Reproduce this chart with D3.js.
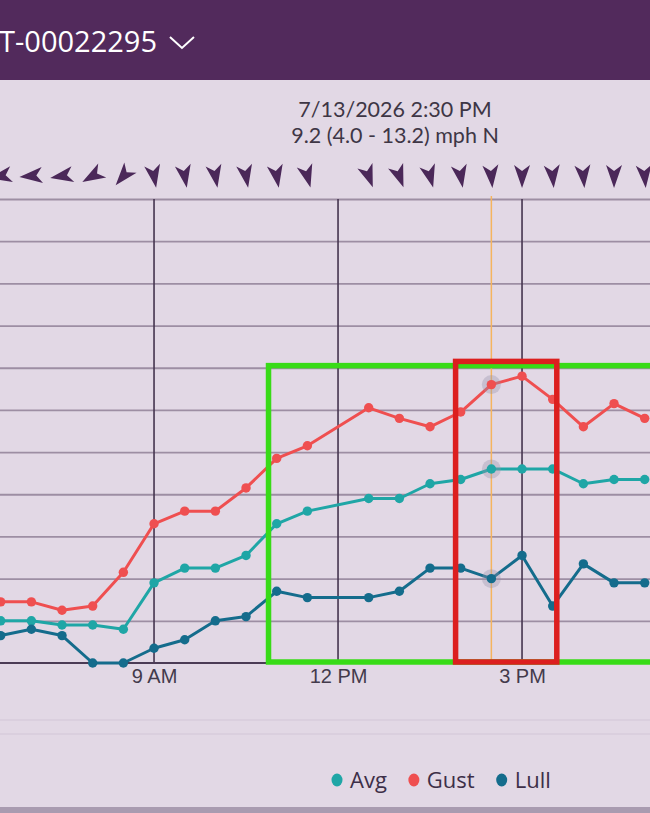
<!DOCTYPE html>
<html>
<head>
<meta charset="utf-8">
<script src="https://cdn.jsdelivr.net/npm/d3@7"></script>
<style>
  html, body { margin: 0; padding: 0; background: #e2d8e5; overflow: hidden; }
  svg { display: block; }
</style>
</head>
<body>
<svg id="windChart" width="650" height="813"></svg>
<script>
let width = 650;
let height = 813;

// data (mph, every 30 min, 12:00 missing)
const stationName = "T-00022295";
const day = "2026-07-13";
const times = ["06:30", "07:00", "07:30", "08:00", "08:30", "09:00", "09:30", "10:00", "10:30",
  "11:00", "11:30", "12:30", "13:00", "13:30", "14:00", "14:30", "15:00", "15:30", "16:00", "16:30", "17:00"];
const avg  = [2.0, 2.0, 1.8, 1.8, 1.6, 3.8, 4.5, 4.5, 5.1, 6.6, 7.2, 7.8, 7.8, 8.5, 8.7, 9.2, 9.2, 9.2, 8.5, 8.7, 8.7];
const gust = [2.9, 2.9, 2.5, 2.7, 4.3, 6.6, 7.2, 7.2, 8.3, 9.7, 10.3, 12.1, 11.6, 11.2, 11.9, 13.2, 13.6, 12.5, 11.2, 12.3, 11.6];
const lull = [1.3, 1.6, 1.3, 0.0, 0.0, 0.7, 1.1, 2.0, 2.2, 3.4, 3.1, 3.1, 3.4, 4.5, 4.5, 4.0, 5.1, 2.7, 4.7, 3.8, 3.8];
const windDir = [80, 85, 80, 60, 40, 350, 350, 350, 350, 350, 345, 340, 340, 345, 350, 355, 0, 355, 355, 0, 355];

const seriesNames = ["Avg", "Gust", "Lull"];
const seriesColors = ["#1fa6a6", "#ef4f50", "#146c8c"];

const selectedTime = "14:30";
const tooltipLines = ["7/13/2026 2:30 PM", "9.2 (4.0 - 13.2) mph N"];
const xTickTimes = ["09:00", "12:00", "15:00"];
const yTicks = [2, 4, 6, 8, 10, 12, 14, 16, 18, 20, 22];

// highlight boxes drawn over the chart
const boxStart = ["10:52", "13:55"];
const boxEnd   = ["17:45", "15:34"];
const boxTop   = [14.1, 14.3];
const boxColor = ["#38db17", "#dc1f1f"];

const parseTime = d3.timeParse("%Y-%m-%d %H:%M");
const toDate = (t) => parseTime(day + " " + t);

let x = d3.scaleTime()
  .domain([toDate("06:30"), toDate("17:00")])
  .range([0.7, 644.7]);

let y = d3.scaleLinear()
  .domain([0, 22])
  .range([663, 199]);

let svg = d3.select("#windChart");

svg.append("rect").attr("width", width).attr("height", height).attr("fill", "#e2d8e5");

// header
svg.append("rect").attr("width", width).attr("height", 80).attr("fill", "#522a5c");
let title = svg.append("text")
  .attr("x", -1).attr("y", 52)
  .attr("fill", "#ffffff")
  .attr("font-family", "'Open Sans', sans-serif")
  .attr("font-size", 29)
  .text(stationName);
let titleEnd = title.node().getComputedTextLength() - 1;
svg.append("path")
  .attr("d", `M${titleEnd + 13},37 L${titleEnd + 25},48 L${titleEnd + 37},37`)
  .attr("fill", "none").attr("stroke", "#ffffff").attr("stroke-width", 2);

// tooltip text
svg.append("g").selectAll("text")
  .data(tooltipLines)
  .enter()
  .append("text")
  .attr("x", 395)
  .attr("y", (d, i) => 117 + i * 26)
  .attr("text-anchor", "middle")
  .attr("fill", "#3e3645")
  .attr("font-family", "Lato, sans-serif")
  .attr("font-size", 21.5)
  .text(d => d);

// wind direction arrows
svg.append("g").selectAll("path")
  .data(times)
  .enter()
  .append("path")
  .attr("d", "M0,-12 L8,11 L0,5 L-8,11 Z")
  .attr("fill", "#4b2859")
  .attr("transform", (d, i) => `translate(${x(toDate(d))},176) rotate(${windDir[i] + 180})`);

// horizontal grid
let grid = svg.append("g")
  .call(d3.axisLeft(y).tickValues(yTicks).tickSize(-width).tickFormat(""));
grid.select(".domain").remove();
grid.selectAll("line").attr("stroke", "#9d8ea3").attr("stroke-width", 1.8);

// hour lines
svg.append("g").selectAll("line")
  .data(xTickTimes)
  .enter()
  .append("line")
  .attr("x1", d => x(toDate(d))).attr("x2", d => x(toDate(d)))
  .attr("y1", y(22)).attr("y2", y(0))
  .attr("stroke", "#45344f").attr("stroke-width", 1.6);

// cursor line
svg.append("line")
  .attr("x1", x(toDate(selectedTime))).attr("x2", x(toDate(selectedTime)))
  .attr("y1", y(22) - 3).attr("y2", y(0))
  .attr("stroke", "#f5b45e").attr("stroke-width", 1.5);

// x axis
let xAxis = svg.append("g")
  .attr("transform", `translate(0,${y(0)})`)
  .call(d3.axisBottom(x)
    .tickValues(xTickTimes.map(toDate))
    .tickSize(0)
    .tickPadding(6)
    .tickFormat(d3.timeFormat("%-I %p")));
xAxis.select(".domain").remove();
xAxis.selectAll("text")
  .attr("font-family", "'Liberation Sans', Arial, sans-serif")
  .attr("font-size", 20)
  .attr("fill", "#433a4b");
svg.append("line")
  .attr("x1", 0).attr("x2", width)
  .attr("y1", y(0)).attr("y2", y(0))
  .attr("stroke", "#4b3b55").attr("stroke-width", 2);

// series
const seriesValues = [avg, gust, lull];
let line = d3.line()
  .x(d => x(d.t))
  .y(d => y(d.v));

let sel = times.indexOf(selectedTime);
seriesValues.forEach((vals, s) => {
  let pts = times.map((t, i) => ({ t: toDate(t), v: vals[i] }));
  svg.append("path")
    .datum(pts)
    .attr("fill", "none")
    .attr("stroke", seriesColors[s])
    .attr("stroke-width", 3)
    .attr("stroke-linejoin", "round")
    .attr("d", line);
  svg.append("circle")
    .attr("cx", x(pts[sel].t)).attr("cy", y(pts[sel].v))
    .attr("r", 9.5)
    .attr("fill", "rgba(150,145,170,0.35)");
  svg.append("g").selectAll("circle")
    .data(pts)
    .enter()
    .append("circle")
    .attr("cx", d => x(d.t))
    .attr("cy", d => y(d.v))
    .attr("r", 4.7)
    .attr("fill", seriesColors[s]);
});

// highlight boxes
svg.append("g").selectAll("rect")
  .data(boxStart)
  .enter()
  .append("rect")
  .attr("x", (d, i) => x(toDate(d)))
  .attr("y", (d, i) => y(boxTop[i]))
  .attr("width", (d, i) => x(toDate(boxEnd[i])) - x(toDate(d)))
  .attr("height", (d, i) => y(0) - 1 - y(boxTop[i]))
  .attr("fill", "none")
  .attr("stroke", (d, i) => boxColor[i])
  .attr("stroke-width", 5.5);

// footer lines
svg.append("g").selectAll("line")
  .data([720, 734])
  .enter()
  .append("line")
  .attr("x1", 0).attr("x2", width)
  .attr("y1", d => d).attr("y2", d => d)
  .attr("stroke", "#d2c6d7").attr("stroke-width", 1);

// legend
let legend = svg.append("g");
let lx = 331;
seriesNames.forEach((name, i) => {
  legend.append("ellipse")
    .attr("cx", lx + 6).attr("cy", 780)
    .attr("rx", 5.5).attr("ry", 6.5)
    .attr("fill", seriesColors[i]);
  let t = legend.append("text")
    .attr("x", lx + 19).attr("y", 788)
    .attr("fill", "#3d2f48")
    .attr("font-family", "'Open Sans', sans-serif")
    .attr("font-size", 22)
    .text(name);
  lx = lx + 19 + t.node().getComputedTextLength() + 21;
});

svg.append("rect").attr("x", 0).attr("y", 807).attr("width", width).attr("height", 6).attr("fill", "#a99bb0");
</script>
</body>
</html>
